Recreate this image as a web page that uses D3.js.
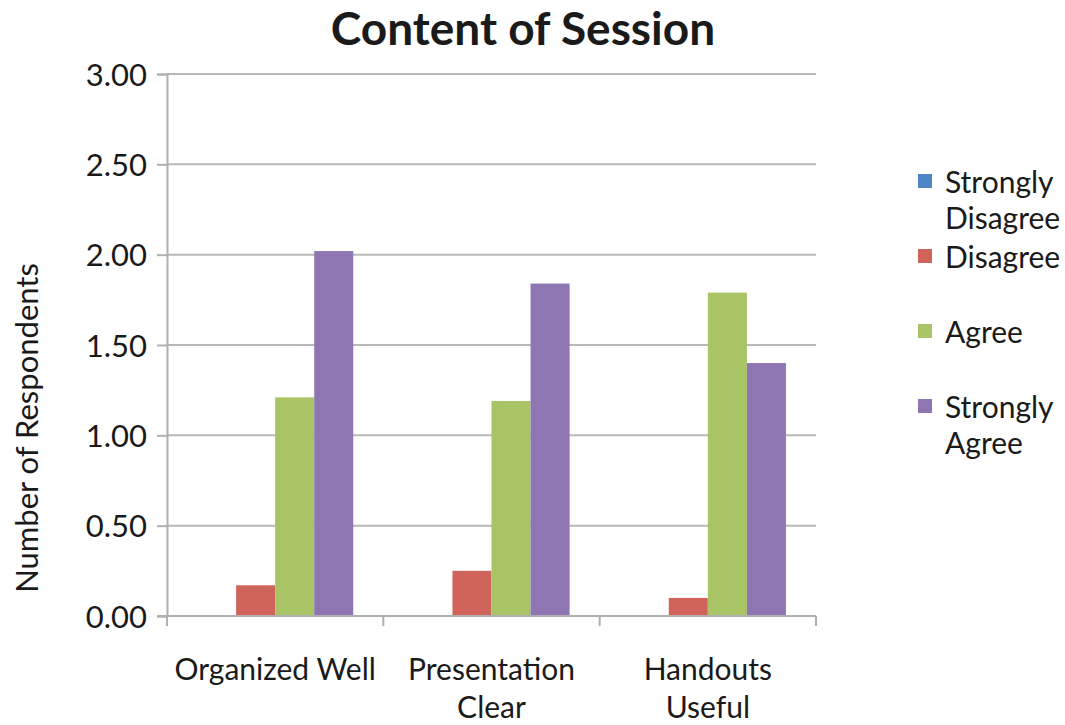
<!DOCTYPE html>
<meta charset='utf-8'>
<style>
  body { margin:0; background:#fff; }
  text { font-family:Lato, 'Open Sans', sans-serif; fill:#1a1a1a; }
  .grid line { stroke:#b8b8b8; stroke-width:2px; }
  .axis path, .axis line { stroke:#b0b0b0; stroke-width:2px; }
</style>
<body>
<script src='https://d3js.org/d3.v7.min.js'></script>
<script>
  var categories = [['Organized Well'], ['Presentation', 'Clear'], ['Handouts', 'Useful']];
  var seriesNames = ['Strongly Disagree', 'Disagree', 'Agree', 'Strongly Agree'];
  var legendLines = [['Strongly', 'Disagree'], ['Disagree'], ['Agree'], ['Strongly', 'Agree']];
  var stronglyDisagree = [0, 0, 0];
  var disagree = [0.17, 0.25, 0.10];
  var agree = [1.21, 1.19, 1.79];
  var stronglyAgree = [2.02, 1.84, 1.40];
  var yTicks = [0, 0.5, 1, 1.5, 2, 2.5, 3];
  var colors = ['#4f86c6', '#d0635a', '#a8c464', '#8e76b3'];

  var width = 1065, height = 725;
  var plotLeft = 167, plotRight = 816, plotTop = 74, plotBottom = 616;
  var values = [stronglyDisagree, disagree, agree, stronglyAgree];

  var svg = d3.select('body').append('svg')
    .attr('width', width)
    .attr('height', height);

  var x0 = d3.scaleBand().domain(d3.range(categories.length)).range([plotLeft, plotRight]);
  var x1 = d3.scaleBand().domain(d3.range(seriesNames.length))
    .range([0, x0.bandwidth()]).paddingOuter(0.77);
  var y = d3.scaleLinear().domain([0, 3]).range([plotBottom, plotTop]);

  // grid -----------------------------------------------------------------
  svg.append('g').attr('class', 'grid')
    .selectAll('line').data(yTicks.slice(1)).join('line')
    .attr('x1', plotLeft).attr('x2', plotRight)
    .attr('y1', d => y(d)).attr('y2', d => y(d));

  // bars
  categories.forEach(function(c, i) {
    svg.append('g').selectAll('rect').data(values).join('rect')
      .attr('x', (s, j) => x0(i) + x1(j))
      .attr('width', x1.bandwidth())
      .attr('y', s => y(s[i]))
      .attr('height', s => y(0) - y(s[i]))
      .attr('fill', (s, j) => colors[j]);
  });

  // axes
  var yAxis = svg.append('g').attr('class', 'axis')
    .attr('transform', 'translate(' + plotLeft + ',0)')
    .call(d3.axisLeft(y).tickValues(yTicks).tickSize(10).tickPadding(10).tickFormat(d3.format('.2f')));
  yAxis.selectAll('text').style('font-size', '31px').attr('dy', '0.36em');

  var xAxis = svg.append('g').attr('class', 'axis')
    .attr('transform', 'translate(0,' + plotBottom + ')')
    .call(d3.axisBottom(x0).tickValues([]).tickSizeOuter(0));
  xAxis.select('.domain').attr('d', 'M' + (plotLeft - 10) + ',0H' + plotRight);
  xAxis.selectAll('.sep').data(d3.range(categories.length + 1)).join('line')
    .attr('class', 'sep')
    .attr('x1', d => plotLeft + d * x0.step()).attr('x2', d => plotLeft + d * x0.step())
    .attr('y1', 0).attr('y2', 10);

  categories.forEach(function(c, i) {
    var t = svg.append('text')
      .attr('x', x0(i) + x0.bandwidth() / 2)
      .attr('y', 680)
      .attr('text-anchor', 'middle')
      .style('font-size', '30px');
    c.forEach(function(line, k) {
      t.append('tspan').attr('x', x0(i) + x0.bandwidth() / 2)
        .attr('dy', k ? 38 : 0).text(line);
    });
  });

  // title
  svg.append('text')
    .attr('x', 523).attr('y', 45)
    .attr('text-anchor', 'middle')
    .style('font-size', '46px').style('font-weight', 'bold')
    .text('Content of Session');

  svg.append('text')
    .attr('transform', 'translate(38,428) rotate(-90)')
    .attr('text-anchor', 'middle')
    .style('font-size', '31px')
    .text('Number of Respondents');

  // legend
  var legend = svg.append('g');
  legendLines.forEach(function(lines, i) {
    var ly = 181 + i * 75;
    legend.append('rect')
      .attr('x', 918).attr('y', ly - 7)
      .attr('width', 14).attr('height', 14)
      .attr('fill', colors[i]);
    var t = legend.append('text')
      .attr('x', 945).attr('y', ly + 12)
      .style('font-size', '30px');
    lines.forEach(function(line, k) {
      t.append('tspan').attr('x', 945).attr('dy', k ? 36 : 0).text(line);
    });
  });
</script>
</body>
